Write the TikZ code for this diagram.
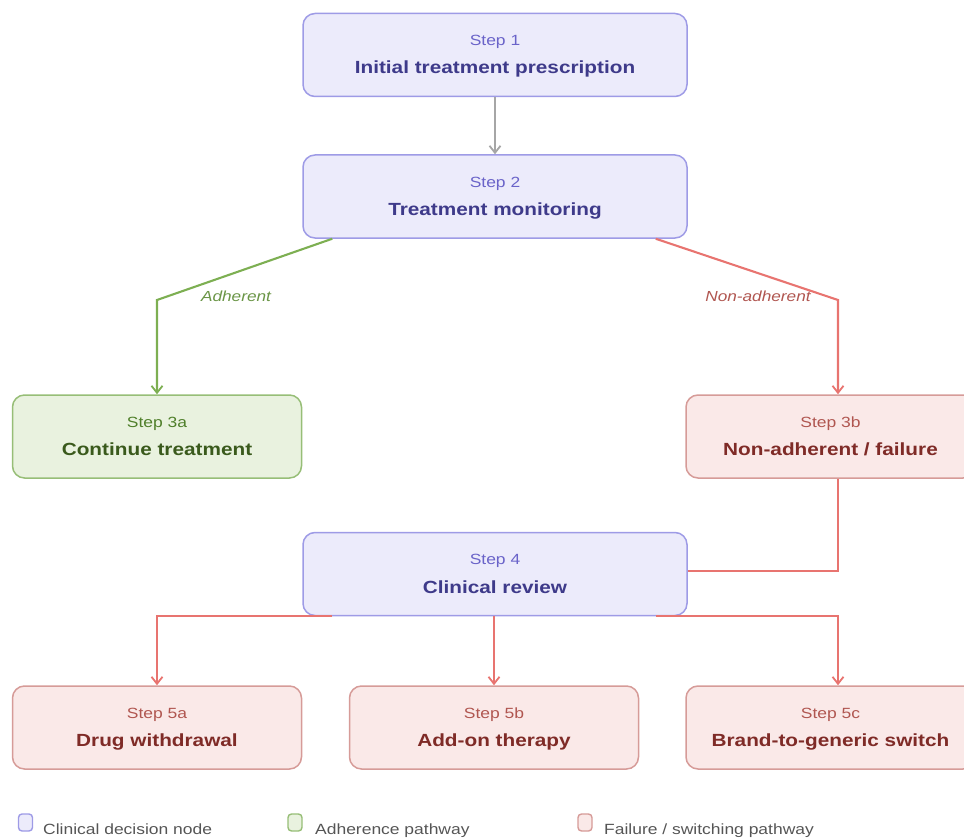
\documentclass[tikz,border=0pt]{standalone}
\usepackage{fontspec}
\setmainfont{Liberation Sans}[FakeStretch=1.18]
\usetikzlibrary{arrows.meta,calc}
\definecolor{bfill}{HTML}{ECEBFB}
\definecolor{bdraw}{HTML}{9E9BE6}
\definecolor{bstep}{HTML}{6A63C9}
\definecolor{btitle}{HTML}{3E3A8A}
\definecolor{gfill}{HTML}{E9F2DF}
\definecolor{gdraw}{HTML}{97BE77}
\definecolor{gstep}{HTML}{4F7F2A}
\definecolor{gtitle}{HTML}{3A5A1C}
\definecolor{rfill}{HTML}{FAE9E8}
\definecolor{rdraw}{HTML}{D69B98}
\definecolor{rstep}{HTML}{B05650}
\definecolor{rtitle}{HTML}{7F2B27}
\definecolor{gedge}{HTML}{7DAF52}
\definecolor{redge}{HTML}{E87470}
\definecolor{grayedge}{HTML}{A6A6A6}
\definecolor{legtext}{HTML}{555555}
\tikzset{
  boxbase/.style={rectangle, rounded corners=12pt, line width=1.5pt, inner sep=0pt, minimum height=83pt},
  bbox/.style={boxbase, fill=bfill, draw=bdraw},
  gbox/.style={boxbase, fill=gfill, draw=gdraw},
  rbox/.style={boxbase, fill=rfill, draw=rdraw},
  stepbase/.style={anchor=base, inner sep=0pt, font=\fontsize{14.8}{16}\selectfont},
  titlebase/.style={anchor=base, inner sep=0pt, font=\fontsize{17.6}{19}\selectfont\bfseries},
  bstepl/.style={stepbase, text=bstep},
  gstepl/.style={stepbase, text=gstep},
  rstepl/.style={stepbase, text=rstep},
  btitlel/.style={titlebase, text=btitle},
  gtitlel/.style={titlebase, text=gtitle},
  rtitlel/.style={titlebase, text=rtitle},
  arrowtip/.style={-{Straight Barb[length=7pt,width=11pt,line width=1.8pt]}},
  garrow/.style={draw=gedge, line width=2.1pt, arrowtip},
  rarrow/.style={draw=redge, line width=2.1pt, arrowtip},
  rline/.style={draw=redge, line width=2.1pt},
  grarrow/.style={draw=grayedge, line width=2.1pt, arrowtip},
  edgelbl/.style={inner sep=0pt, font=\fontsize{14.6}{16}\selectfont\itshape},
  legsq/.style={rectangle, rounded corners=3.5pt, line width=1.4pt, minimum width=14pt, minimum height=17pt, inner sep=0pt},
  legtxt/.style={anchor=base west, inner sep=0pt, text=legtext, font=\fontsize{14.8}{16}\selectfont},
}
\newcommand\flowbox[7]{%
  \node[#5box, minimum width=#4] (#1) at (#2,#3) {};
  \node[#5stepl] (#1-s) at (#2,#3-9.5) {#6};
  \node[#5titlel] (#1-t) at (#2,#3+19) {#7};
}
\begin{document}
\begin{tikzpicture}[x=1pt,y=-1pt]
\useasboundingbox (0,0) rectangle (964,840);
\flowbox{s1}{495}{55}{384pt}{b}{Step 1}{Initial treatment prescription}
\flowbox{s2}{495}{196.5}{384pt}{b}{Step 2}{Treatment monitoring}
\flowbox{s3a}{157}{436.5}{289pt}{g}{Step 3a}{Continue treatment}
\flowbox{s3b}{830.5}{436.5}{289pt}{r}{Step 3b}{Non-adherent / failure}
\flowbox{s4}{495}{574}{384pt}{b}{Step 4}{Clinical review}
\flowbox{s5a}{157}{727.5}{289pt}{r}{Step 5a}{Drug withdrawal}
\flowbox{s5b}{494}{727.5}{289pt}{r}{Step 5b}{Add-on therapy}
\flowbox{s5c}{830.5}{727.5}{289pt}{r}{Step 5c}{Brand-to-generic switch}

\coordinate (gbend) at (157,300);
\coordinate (rbend) at (838,300);

\draw[grarrow] (s1) -- (s2);
\draw[garrow] ([xshift=30pt]s2.south west) -- (gbend) -- (s3a.north);
\draw[rarrow] ([xshift=-32pt]s2.south east) -- (rbend) -- ([xshift=7.5pt]s3b.north);
\node[edgelbl, text=gedge!85!black] (ladh) at (236,296) {Adherent};
\node[edgelbl, text=rstep] (lnon) at (758,296) {Non-adherent};

\draw[rline] ([xshift=7.5pt]s3b.south) |- ([yshift=3pt]s4.east);
\draw[rarrow] ([xshift=30pt]s4.south west) -| (s5a.north);
\draw[rarrow] (s4.south -| s5b.north) -- (s5b.north);
\draw[rarrow] ([xshift=-32pt]s4.south east) -| ([xshift=7.5pt]s5c.north);

\node[legsq, fill=bfill, draw=bdraw] (lg1) at (25.5,822.5) {};
\node[legtxt] (lt1) at (43,834) {Clinical decision node};
\node[legsq, fill=gfill, draw=gdraw] (lg2) at (295,822.5) {};
\node[legtxt] (lt2) at (315,834) {Adherence pathway};
\node[legsq, fill=rfill, draw=rdraw] (lg3) at (585,822.5) {};
\node[legtxt] (lt3) at (604,834) {Failure / switching pathway};
\end{tikzpicture}
\end{document}
